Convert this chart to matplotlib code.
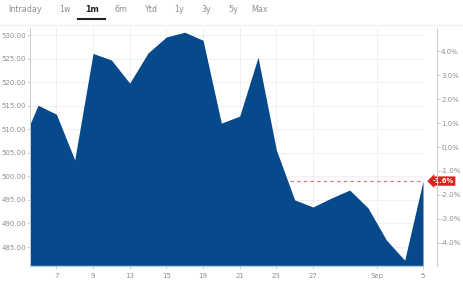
import numpy as np
import matplotlib.pyplot as plt
import matplotlib.transforms as mtransforms

# trading days shown on the x axis (index positions), Aug 5 is partly clipped at the left edge
days = ['Aug 5', 'Aug 6', 'Aug 7', 'Aug 8', 'Aug 9', 'Aug 12', 'Aug 13', 'Aug 14', 'Aug 15',
        'Aug 16', 'Aug 19', 'Aug 20', 'Aug 21', 'Aug 22', 'Aug 23', 'Aug 26', 'Aug 27',
        'Aug 28', 'Aug 29', 'Aug 30', 'Sep 3', 'Sep 4', 'Sep 5']
prices = [506.0, 515.1, 513.2, 503.5, 526.1, 524.7, 519.8, 526.2, 529.6, 530.6, 528.9,
          511.3, 512.8, 525.3, 505.6, 495.0, 493.5, 495.4, 497.1, 493.3, 486.5, 482.2, 499.0]

xtick_pos = [1, 3, 5, 7, 9, 11, 13, 15, 18.5, 21]
xtick_labels = ['7', '9', '13', '15', '19', '21', '23', '27', 'Sep', '5']
ytick_left = [485, 490, 495, 500, 505, 510, 515, 520, 525, 530]
ytick_right = [-4, -3, -2, -1, 0, 1, 2, 3, 4]
last_change = -1.6

tabs = ['Intraday', '1w', '1m', '6m', 'Ytd', '1y', '3y', '5y', 'Max']
tab_x = [25, 65, 92, 121, 151, 179, 206, 233, 260]

x = np.arange(len(prices)) - 1
blue = '#064a8b'
grey_txt = '#8f8f8f'

fig = plt.figure(figsize=(4.63, 2.82), dpi=100)
fig.patch.set_facecolor('white')

# tab bar
for t, tx in zip(tabs, tab_x):
    sel = t == '1m'
    fig.text(tx / 463, 1 - 9 / 282, t, ha='center', va='center', fontsize=5.8,
             color='#222222' if sel else grey_txt, fontweight='bold' if sel else 'normal')
fig.add_artist(plt.Line2D([78 / 463, 105 / 463], [1 - 19 / 282] * 2, color='#222222', lw=1.5))
fig.add_artist(plt.Line2D([0, 1], [1 - 25 / 282] * 2, color='#eeeeee', lw=0.8))

ax = fig.add_axes([30 / 463, 1 - 266 / 282, 393 / 463, 238 / 282])
ax.set_xlim(-0.44, 21)
ax.set_ylim(480.97, 531.5)

ax.axhline(prices[-1], color='#f26868', lw=0.8, ls=(0, (3, 3)), zorder=1)
ax.fill_between(x, prices, 480.97, color=blue, lw=0, zorder=2)

ax.set_xticks(xtick_pos)
ax.set_xticklabels(xtick_labels)
ax.set_yticks(ytick_left)
ax.set_yticklabels(['%.2f' % v for v in ytick_left])
ax.grid(True, color='#eeeeee', lw=0.6, zorder=0)
ax.set_axisbelow(True)
ax.tick_params(axis='both', labelsize=5, colors='#bbbbbb', labelcolor=grey_txt, length=2, width=0.5)
ax.tick_params(axis='y', pad=1)
ax.tick_params(axis='x', pad=3)
for s in ['top', 'right']:
    ax.spines[s].set_visible(False)
ax.spines['left'].set_color('#cccccc')
ax.spines['left'].set_linewidth(0.7)
ax.spines['bottom'].set_color('#a9d2f0')
ax.spines['bottom'].set_linewidth(1.0)

ax2 = ax.twinx()
ax2.set_ylim(-4.96, 4.96)
ax2.set_yticks(ytick_right)
ax2.set_yticklabels(['%.1f%%' % v for v in ytick_right])
ax2.tick_params(axis='y', labelsize=5, colors='#bbbbbb', labelcolor=grey_txt, length=2, width=0.5, pad=1)
for s in ['top', 'left', 'bottom']:
    ax2.spines[s].set_visible(False)
ax2.spines['right'].set_position(('outward', 10))
ax2.spines['right'].set_color('#cccccc')
ax2.spines['right'].set_linewidth(0.7)

# last value marker
trans = mtransforms.blended_transform_factory(ax.transAxes, ax.transData)
ax.text(1.024, prices[-1], '%.1f%%' % last_change, transform=trans, ha='left', va='center',
        fontsize=4.8, color='white', fontweight='bold', zorder=5, clip_on=False,
        bbox=dict(boxstyle='larrow,pad=0.25', fc='#e0201b', ec='none'))

plt.savefig('out.png', dpi=100)
plt.close()
